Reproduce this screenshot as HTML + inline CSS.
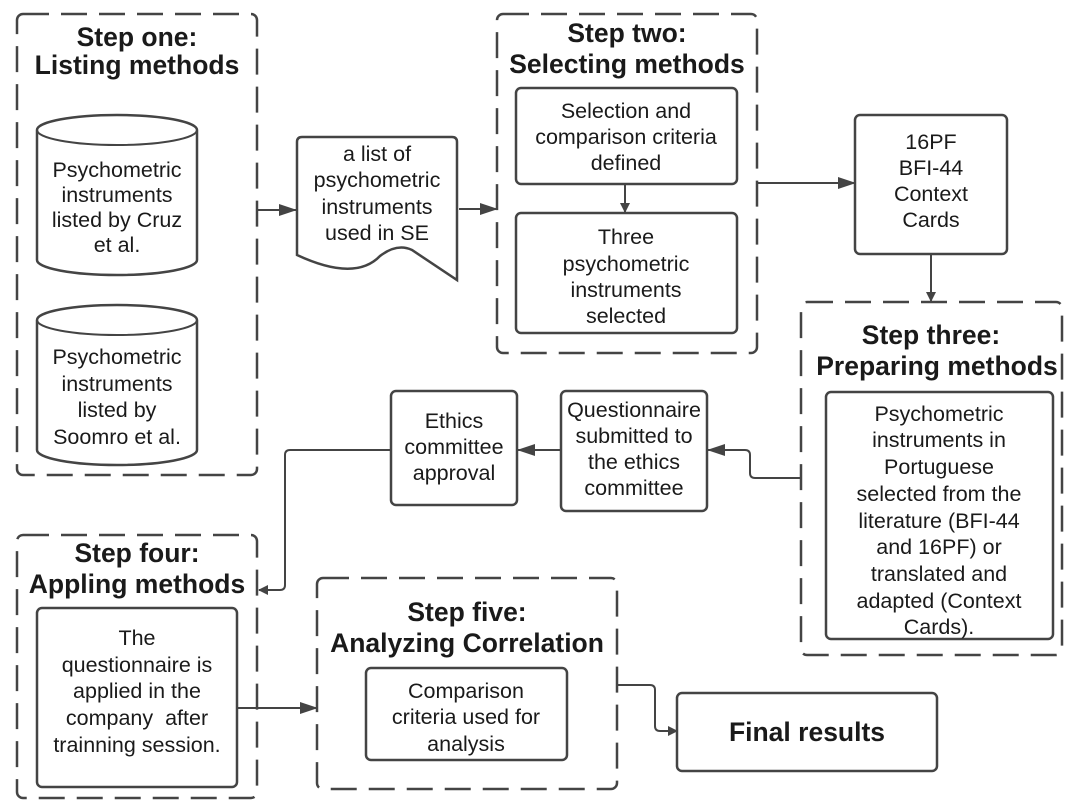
<!DOCTYPE html>
<html><head><meta charset="utf-8"><style>
html,body{margin:0;padding:0;background:#fff;}
svg{display:block;}
text{font-family:"Liberation Sans",Arial,sans-serif;fill:#1a1a1a;text-anchor:middle;}
.t{font-size:21.5px;}
.b{font-size:26.5px;font-weight:bold;}
.d{fill:none;stroke:#444;stroke-width:2.5;stroke-dasharray:26,12;}
.s{fill:#fff;stroke:#444;stroke-width:2.5;}
.l{fill:none;stroke:#444;stroke-width:2;}
</style></head><body>
<svg width="1073" height="811" viewBox="0 0 1073 811" xmlns="http://www.w3.org/2000/svg">
<defs><marker id="a" markerWidth="10" markerHeight="10" refX="9" refY="5" orient="auto" markerUnits="userSpaceOnUse"><path d="M0,0 L10,5 L0,10 z" fill="#444"/></marker>
<marker id="a2" markerWidth="18" markerHeight="12" refX="17" refY="6" orient="auto" markerUnits="userSpaceOnUse"><path d="M0,0 L18,6 L0,12 z" fill="#444"/></marker></defs>

<!-- Step one -->
<rect class="d" x="17" y="14" width="240" height="461" rx="6"/>
<text class="b" x="137" y="46">Step one:</text>
<text class="b" x="137" y="74">Listing methods</text>
<path class="s" d="M37,130 A80,15 0 0 1 197,130 L197,260 A80,15 0 0 1 37,260 Z"/>
<path class="l" d="M37,130 A80,15 0 0 0 197,130" stroke-width="2.5"/>
<text class="t" x="117" y="177">Psychometric</text>
<text class="t" x="117" y="202">instruments</text>
<text class="t" x="117" y="227">listed by Cruz</text>
<text class="t" x="117" y="252">et al.</text>
<path class="s" d="M37,320 A80,15 0 0 1 197,320 L197,450 A80,15 0 0 1 37,450 Z"/>
<path class="l" d="M37,320 A80,15 0 0 0 197,320" stroke-width="2.5"/>
<text class="t" x="117" y="364">Psychometric</text>
<text class="t" x="117" y="391">instruments</text>
<text class="t" x="117" y="417">listed by</text>
<text class="t" x="117" y="444">Soomro et al.</text>

<!-- document -->
<path class="s" d="M302,137 L452,137 Q457,137 457,142 L457,280 L412,250 Q397,243 380,256 Q355,282 297,255 L297,142 Q297,137 302,137 Z"/>
<text class="t" x="377" y="161">a list of</text>
<text class="t" x="377" y="187">psychometric</text>
<text class="t" x="377" y="214">instruments</text>
<text class="t" x="377" y="240">used in SE</text>
<line class="l" x1="258" y1="210" x2="296" y2="210" marker-end="url(#a2)"/>
<line class="l" x1="459" y1="209" x2="497" y2="209" marker-end="url(#a2)"/>

<!-- Step two -->
<rect class="d" x="497" y="14" width="260" height="339" rx="6"/>
<text class="b" x="627" y="42">Step two:</text>
<text class="b" x="627" y="73">Selecting methods</text>
<rect class="s" x="516" y="88" width="221" height="96" rx="5"/>
<text class="t" x="626" y="118">Selection and</text>
<text class="t" x="626" y="144">comparison criteria</text>
<text class="t" x="626" y="170">defined</text>
<line class="l" x1="625" y1="184" x2="625" y2="212" marker-end="url(#a)"/>
<rect class="s" x="516" y="213" width="221" height="120" rx="5"/>
<text class="t" x="626" y="244">Three</text>
<text class="t" x="626" y="271">psychometric</text>
<text class="t" x="626" y="297">instruments</text>
<text class="t" x="626" y="323">selected</text>
<line class="l" x1="757" y1="183" x2="855" y2="183" marker-end="url(#a2)"/>

<rect class="s" x="855" y="115" width="152" height="139" rx="5"/>
<text class="t" x="931" y="149">16PF</text>
<text class="t" x="931" y="175">BFI-44</text>
<text class="t" x="931" y="201">Context</text>
<text class="t" x="931" y="227">Cards</text>
<line class="l" x1="931" y1="254" x2="931" y2="301" marker-end="url(#a)"/>

<!-- Step three -->
<rect class="d" x="801" y="302" width="261" height="353" rx="6"/>
<text class="b" x="931" y="344">Step three:</text>
<text class="b" x="937" y="375">Preparing methods</text>
<rect class="s" x="826" y="392" width="227" height="247" rx="5"/>
<text class="t" x="939" y="421">Psychometric</text>
<text class="t" x="939" y="447">instruments in</text>
<text class="t" x="939" y="474">Portuguese</text>
<text class="t" x="939" y="501">selected from the</text>
<text class="t" x="939" y="528">literature (BFI-44</text>
<text class="t" x="939" y="554">and 16PF) or</text>
<text class="t" x="939" y="581">translated and</text>
<text class="t" x="939" y="608">adapted (Context</text>
<text class="t" x="939" y="634">Cards).</text>

<path class="l" d="M801,478 L755,478 Q750,478 750,473 L750,455 Q750,450 745,450 L708,450" marker-end="url(#a2)"/>
<rect class="s" x="561" y="391" width="146" height="120" rx="5"/>
<text class="t" x="634" y="417">Questionnaire</text>
<text class="t" x="634" y="443">submitted to</text>
<text class="t" x="634" y="469">the ethics</text>
<text class="t" x="634" y="495">committee</text>
<line class="l" x1="561" y1="450" x2="518" y2="450" marker-end="url(#a2)"/>
<rect class="s" x="391" y="391" width="126" height="114" rx="5"/>
<text class="t" x="454" y="428">Ethics</text>
<text class="t" x="454" y="454">committee</text>
<text class="t" x="454" y="480">approval</text>
<path class="l" d="M391,450 L290,450 Q285,450 285,455 L285,585 Q285,590 280,590 L259,590" marker-end="url(#a)"/>

<!-- Step four -->
<rect class="d" x="17" y="535" width="240" height="263" rx="6"/>
<text class="b" x="137" y="562">Step four:</text>
<text class="b" x="137" y="593">Appling methods</text>
<rect class="s" x="37" y="608" width="200" height="179" rx="5"/>
<text class="t" x="137" y="645">The</text>
<text class="t" x="137" y="672">questionnaire is</text>
<text class="t" x="137" y="698">applied in the</text>
<text class="t" x="137" y="725">company&#160; after</text>
<text class="t" x="137" y="752">trainning session.</text>
<line class="l" x1="237" y1="708" x2="317" y2="708" marker-end="url(#a2)"/>

<!-- Step five -->
<rect class="d" x="317" y="578" width="300" height="211" rx="6"/>
<text class="b" x="467" y="621">Step five:</text>
<text class="b" x="467" y="652">Analyzing Correlation</text>
<rect class="s" x="366" y="668" width="201" height="92" rx="5"/>
<text class="t" x="466" y="698">Comparison</text>
<text class="t" x="466" y="724">criteria used for</text>
<text class="t" x="466" y="751">analysis</text>
<path class="l" d="M617,685 L650,685 Q655,685 655,690 L655,726 Q655,731 660,731 L677,731" marker-end="url(#a)"/>
<rect class="s" x="677" y="693" width="260" height="78" rx="5"/>
<text class="b" x="807" y="741">Final results</text>
</svg>
</body></html>
